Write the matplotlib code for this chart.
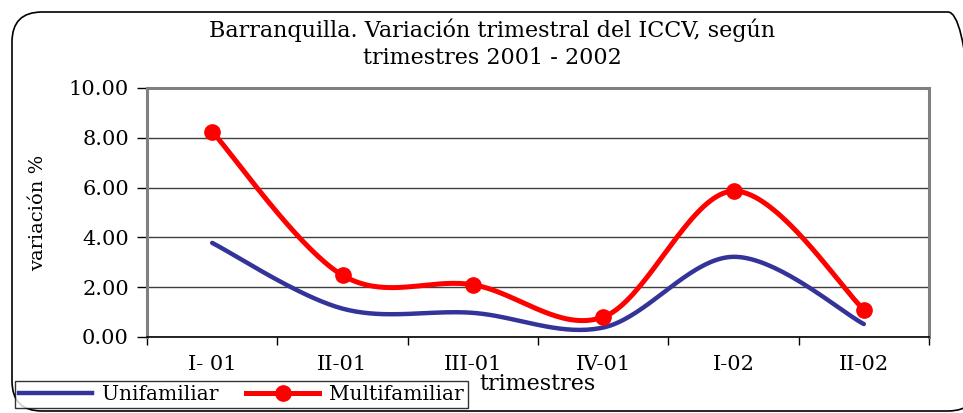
import numpy as np
import matplotlib
matplotlib.use("Agg")
import matplotlib.pyplot as plt
from matplotlib.patches import FancyBboxPatch
from matplotlib.lines import Line2D
from matplotlib.transforms import IdentityTransform

# data
quarters = ["I- 01", "II-01", "III-01", "IV-01", "I-02", "II-02"]
unifamiliar = [3.78, 1.14, 0.97, 0.38, 3.22, 0.52]
multifamiliar = [8.25, 2.48, 2.10, 0.80, 5.86, 1.10]

BLUE = "#333399"
RED = "#FF0000"
SERIF = "DejaVu Serif"


def excel_smooth(y, n=40):
    """Excel-style smoothed line: cubic Bezier with Catmull-Rom control points."""
    x = np.arange(len(y), dtype=float)
    y = np.asarray(y, dtype=float)
    pts = np.column_stack([x, y])
    ext = np.vstack([pts[0], pts, pts[-1]])
    out = []
    t = np.linspace(0, 1, n)[:, None]
    for i in range(len(pts) - 1):
        p0, p3 = ext[i + 1], ext[i + 2]
        c1 = p0 + (ext[i + 2] - ext[i]) / 6
        c2 = p3 - (ext[i + 3] - ext[i + 1]) / 6
        seg = ((1 - t) ** 3) * p0 + 3 * ((1 - t) ** 2) * t * c1 + 3 * (1 - t) * t ** 2 * c2 + t ** 3 * p3
        out.append(seg if i == 0 else seg[1:])
    seg = np.vstack(out)
    return seg[:, 0], seg[:, 1]


fig = plt.figure(figsize=(9.63, 4.13), dpi=100)

# rounded chart-area border (right side runs past the image edge)
border = FancyBboxPatch((12, 2), 966, 399, boxstyle="round,pad=0,rounding_size=30",
                        transform=IdentityTransform(), facecolor="none",
                        edgecolor="black", linewidth=1.2, zorder=0)
fig.add_artist(border)
ax = fig.add_axes([147 / 963, 1 - 337 / 413, 782 / 963, 249 / 413])

xs = np.arange(len(quarters))
ux, uy = excel_smooth(unifamiliar)
mx, my = excel_smooth(multifamiliar)
ax.plot(ux, uy, color=BLUE, lw=3.2, solid_capstyle="round", zorder=3)
ax.plot(mx, my, color=RED, lw=3.6, solid_capstyle="round", zorder=4)
ax.plot(xs, multifamiliar, "o", color=RED, ms=11, zorder=5)

ax.set_xlim(-0.5, len(quarters) - 0.5)
ax.set_ylim(0, 10)
yt = np.arange(0, 10.01, 2)
ax.set_yticks(yt)
ax.set_yticklabels([f"{v:.2f}" for v in yt], fontfamily=SERIF, fontsize=15)
ax.set_xticks(xs)
ax.set_xticklabels(quarters, fontfamily=SERIF, fontsize=15)
ax.set_xticks(np.arange(-0.5, len(quarters)), minor=True)
ax.tick_params(axis="x", which="major", length=0, pad=13)
ax.tick_params(axis="x", which="minor", length=6, direction="out", width=1)
ax.tick_params(axis="y", length=7, direction="out", width=1, pad=6)

ax.grid(axis="y", color="#404040", lw=1)
ax.set_axisbelow(True)
for side in ["top", "right", "left"]:
    ax.spines[side].set_color("#808080")
    ax.spines[side].set_linewidth(2.2)
ax.spines["bottom"].set_color("black")
ax.spines["bottom"].set_linewidth(1.2)

ax.set_ylabel("variación %", fontfamily=SERIF, fontsize=14)
ax.yaxis.set_label_coords(-0.128, 0.5)
ax.set_xlabel("trimestres", fontfamily=SERIF, fontsize=16)
ax.xaxis.set_label_coords(0.5, -0.145)

fig.text(492 / 963, 1 - 30 / 413, "Barranquilla. Variación trimestral del ICCV, según",
         ha="center", va="center", fontfamily=SERIF, fontsize=16)
fig.text(492 / 963, 1 - 58 / 413, "trimestres 2001 - 2002",
         ha="center", va="center", fontfamily=SERIF, fontsize=16)

handles = [Line2D([], [], color=BLUE, lw=3.2),
           Line2D([], [], color=RED, lw=3.6, marker="o", ms=11)]
leg = fig.legend(handles, ["Unifamiliar", "Multifamiliar"], ncol=2,
                 loc="upper left", bbox_to_anchor=(15 / 963, 1 - 381 / 413),
                 prop={"family": SERIF, "size": 14.5}, frameon=True, fancybox=False,
                 handlelength=3.6, handletextpad=0.5, columnspacing=1.4,
                 borderpad=0.2, borderaxespad=0)
leg.get_frame().set_edgecolor("black")
leg.get_frame().set_linewidth(1)

fig.savefig("out.png", dpi=100)
